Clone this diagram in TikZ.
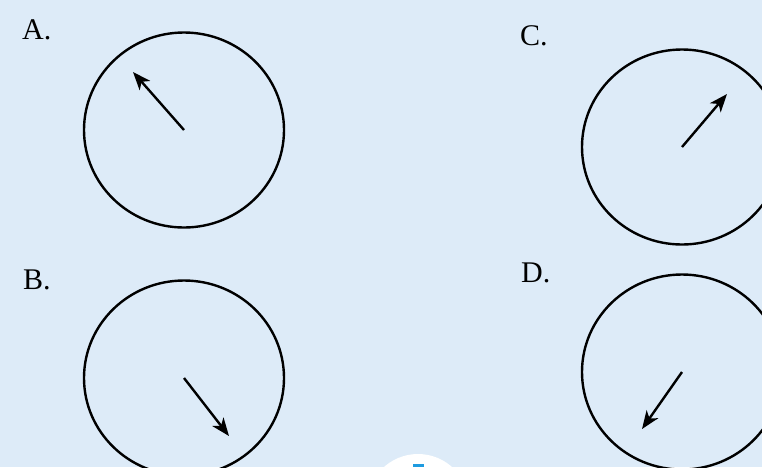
\documentclass[tikz,border=0pt]{standalone}
\usepackage{fontspec}
\setmainfont{Liberation Serif}
\usetikzlibrary{arrows.meta,shapes.geometric}
\definecolor{bgblue}{HTML}{DDEBF8}
\definecolor{logoblue}{HTML}{1E9BE0}
\begin{document}
\begin{tikzpicture}[x=1pt,y=-1pt,
  dial/.style={draw=black,line width=2.4pt,ellipse,minimum width=200pt,minimum height=195pt,inner sep=0pt},
  needle/.style={line width=2.4pt,-{Stealth[length=18pt,width=14pt,inset=5pt]}},
  lab/.style={anchor=base west,inner sep=0pt,font=\fontsize{30}{30}\selectfont}]
\fill[bgblue] (0,0) rectangle (762,467);
\useasboundingbox (0,0) rectangle (762,467);
\begin{scope}
\clip (0,0) rectangle (762,467);
\node[dial] (cA) at (184,130) {};
\node[dial] (cB) at (184,378) {};
\node[dial] (cC) at (682,147) {};
\node[dial] (cD) at (682,372) {};
\coordinate (tA) at (133,72);
\coordinate (tB) at (229,436);
\coordinate (tC) at (727,94);
\coordinate (tD) at (642,429);
\draw[needle] (cA.center) -- (tA);
\draw[needle] (cB.center) -- (tB);
\draw[needle] (cC.center) -- (tC);
\draw[needle] (cD.center) -- (tD);
\fill[white] (418,505) circle (51);
\fill[logoblue] (413,464) rectangle (424,467);
\end{scope}
\node[lab] (lA) at (22,39) {A.};
\node[lab] (lB) at (23,289) {B.};
\node[lab] (lC) at (520,45) {C.};
\node[lab] (lD) at (521,282) {D.};
\end{tikzpicture}
\end{document}
